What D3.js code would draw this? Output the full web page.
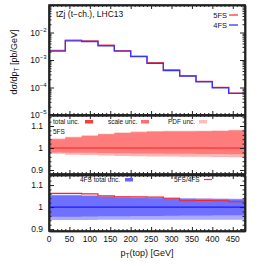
<!DOCTYPE html>
<html>
<head>
<meta charset="utf-8">
<script src="https://cdn.jsdelivr.net/npm/d3@7"></script>
<style>
  body { margin: 0; background: #fff; }
  svg { display: block; font-family: "Liberation Sans", Arial, sans-serif; }
  .axis path { stroke: #222; stroke-width: 1.5; }
  .axis line { stroke: #222; }
  .axis text { display: none; }
</style>
</head>
<body>
<svg id="chart" width="262" height="266"></svg>
<script>
// bin edges and values
var PT_EDGES = [0, 40, 80, 120, 160, 200, 240, 280, 320, 360, 400, 440, 480];
var XS_5FS = [2.23e-3, 5.3e-3, 4.98e-3, 3.47e-3, 2.2e-3, 1.39e-3, 7.95e-4, 4.32e-4, 2.68e-4, 1.67e-4, 1.01e-4, 6.25e-5];
var XS_4FS = [2.1e-3, 5.0e-3, 4.7e-3, 3.3e-3, 2.1e-3, 1.33e-3, 7.6e-4, 4.15e-4, 2.6e-4, 1.62e-4, 9.8e-5, 6.1e-5];

// 5FS relative uncertainties (middle panel)
var SCALE_HI_5FS = [1.040, 1.048, 1.055, 1.062, 1.068, 1.072, 1.074, 1.075, 1.075, 1.076, 1.077, 1.080];
var SCALE_LO_5FS = [0.980, 0.978, 0.978, 0.977, 0.976, 0.975, 0.975, 0.974, 0.974, 0.973, 0.973, 0.972];
var TOTAL_HI_5FS = [1.043, 1.051, 1.058, 1.065, 1.071, 1.075, 1.077, 1.078, 1.078, 1.079, 1.080, 1.083];
var TOTAL_LO_5FS = [0.974, 0.970, 0.968, 0.966, 0.964, 0.963, 0.962, 0.961, 0.960, 0.960, 0.959, 0.958];

// 4FS relative uncertainties and ratio (lower panel)
var SCALE_HI_4FS = [1.052, 1.052, 1.050, 1.046, 1.044, 1.042, 1.040, 1.038, 1.037, 1.036, 1.035, 1.034];
var SCALE_LO_4FS = [0.956, 0.956, 0.957, 0.958, 0.958, 0.959, 0.960, 0.961, 0.962, 0.962, 0.963, 0.963];
var TOTAL_HI_4FS = [1.056, 1.056, 1.054, 1.050, 1.048, 1.046, 1.044, 1.042, 1.041, 1.040, 1.039, 1.038];
var TOTAL_LO_4FS = [0.941, 0.941, 0.941, 0.942, 0.942, 0.942, 0.942, 0.942, 0.942, 0.942, 0.942, 0.942];
var RATIO_5FS_4FS = [1.062, 1.062, 1.060, 1.051, 1.047, 1.047, 1.045, 1.040, 1.029, 1.030, 1.029, 1.024];

var X_MAJOR = [0, 50, 100, 150, 200, 250, 300, 350, 400, 450];
var Y_MAIN_MAJOR = [1e-5, 1e-4, 1e-3, 1e-2, 1e-1];
var Y_RATIO_MAJOR = [0.9, 1.0, 1.1];

var LEFT = 49, RIGHT = 245;
var MAIN_TOP = 5, MAIN_BOTTOM = 115;
var MID_TOP = 115, MID_BOTTOM = 174;
var LOW_TOP = 175, LOW_BOTTOM = 231;

var RED = "#ff2a2a", BLUE = "#2a2aff";

var svg = d3.select("#chart");

var xScale = d3.scaleLinear().domain([0, 480]).range([LEFT, RIGHT]);
var yMain = d3.scaleLog().domain([1e-5, 1e-1]).range([MAIN_BOTTOM, MAIN_TOP]);
var yMid = d3.scaleLinear().domain([0.882, 1.15]).range([MID_BOTTOM, MID_TOP]);
var yLow = d3.scaleLinear().domain([0.8915, 1.1455]).range([LOW_BOTTOM, LOW_TOP]);

function stepPoints(vals) {
    var pts = vals.map((v, i) => [PT_EDGES[i], v]);
    pts.push([PT_EDGES[PT_EDGES.length - 1], vals[vals.length - 1]]);
    return pts;
}
function bandPoints(lo, hi) {
    var pts = lo.map((v, i) => [PT_EDGES[i], v, hi[i]]);
    pts.push([PT_EDGES[PT_EDGES.length - 1], lo[lo.length - 1], hi[hi.length - 1]]);
    return pts;
}
function drawBand(yS, lo, hi, color) {
    var area = d3.area().curve(d3.curveStepAfter)
        .x(d => xScale(d[0])).y0(d => yS(d[1])).y1(d => yS(d[2]));
    svg.append("path").attr("d", area(bandPoints(lo, hi))).attr("fill", color);
}
function drawStep(yS, vals, color, width) {
    var line = d3.line().curve(d3.curveStepAfter)
        .x(d => xScale(d[0])).y(d => yS(d[1]));
    svg.append("path").attr("d", line(stepPoints(vals)))
        .attr("fill", "none").attr("stroke", color).attr("stroke-width", width);
}
function flatLine(yS, v, color) {
    svg.append("line").attr("x1", LEFT).attr("x2", RIGHT)
        .attr("y1", yS(v)).attr("y2", yS(v))
        .attr("stroke", color).attr("stroke-width", 1.2);
}

// Main panel curves
drawStep(yMain, XS_5FS, "#ff4040", 1.3);
drawStep(yMain, XS_4FS, "#3535ff", 1.3);

// Middle panel bands
drawBand(yMid, TOTAL_LO_5FS, TOTAL_HI_5FS, "#ffb4b4");
drawBand(yMid, SCALE_LO_5FS, SCALE_HI_5FS, "#ff7c7c");
flatLine(yMid, 1.0, "#ff2020");

// Lower panel bands
drawBand(yLow, TOTAL_LO_4FS, TOTAL_HI_4FS, "#a9a9ff");
drawBand(yLow, SCALE_LO_4FS, SCALE_HI_4FS, "#7070ff");
flatLine(yLow, 1.0, "#1a1aff");
drawStep(yLow, RATIO_5FS_4FS, "#ff2020", 1.1);

// Axes with inward ticks
function xTicks(top, bottom) {
    var minor = d3.range(0, 481, 10).filter(v => v % 50 != 0);
    svg.append("g").attr("class", "axis").attr("transform", "translate(0," + bottom + ")")
        .call(d3.axisBottom(xScale).tickValues(X_MAJOR).tickSize(-4).tickSizeOuter(0));
    svg.append("g").attr("class", "axis").attr("transform", "translate(0," + bottom + ")")
        .call(d3.axisBottom(xScale).tickValues(minor).tickSize(-2).tickSizeOuter(0));
    svg.append("g").attr("class", "axis").attr("transform", "translate(0," + top + ")")
        .call(d3.axisTop(xScale).tickValues(X_MAJOR).tickSize(-4).tickSizeOuter(0));
    svg.append("g").attr("class", "axis").attr("transform", "translate(0," + top + ")")
        .call(d3.axisTop(xScale).tickValues(minor).tickSize(-2).tickSizeOuter(0));
}
function yTicks(yS, major, minor) {
    svg.append("g").attr("class", "axis").attr("transform", "translate(" + LEFT + ",0)")
        .call(d3.axisLeft(yS).tickValues(major).tickSize(-5).tickSizeOuter(0));
    svg.append("g").attr("class", "axis").attr("transform", "translate(" + LEFT + ",0)")
        .call(d3.axisLeft(yS).tickValues(minor).tickSize(-2.5).tickSizeOuter(0));
    svg.append("g").attr("class", "axis").attr("transform", "translate(" + RIGHT + ",0)")
        .call(d3.axisRight(yS).tickValues(major).tickSize(-5).tickSizeOuter(0));
    svg.append("g").attr("class", "axis").attr("transform", "translate(" + RIGHT + ",0)")
        .call(d3.axisRight(yS).tickValues(minor).tickSize(-2.5).tickSizeOuter(0));
}

var logMinor = [];
for (var e = -5; e < -1; e++) {
    for (var m = 2; m < 10; m++) logMinor.push(m * Math.pow(10, e));
}
var ratioMinor = d3.range(0.88, 1.151, 0.02).map(v => +v.toFixed(2)).filter(v => Y_RATIO_MAJOR.indexOf(v) < 0);

xTicks(MAIN_TOP, MAIN_BOTTOM);
xTicks(MID_TOP, MID_BOTTOM);
xTicks(LOW_TOP, LOW_BOTTOM);
yTicks(yMain, Y_MAIN_MAJOR, logMinor);
yTicks(yMid, Y_RATIO_MAJOR, ratioMinor.filter(v => v > yMid.domain()[0]));
yTicks(yLow, Y_RATIO_MAJOR, ratioMinor.filter(v => v > yLow.domain()[0] && v < yLow.domain()[1]));

// Frames
[[MAIN_TOP, MAIN_BOTTOM], [MID_TOP, MID_BOTTOM], [LOW_TOP, LOW_BOTTOM]].forEach(function (p) {
    svg.append("rect").attr("x", LEFT).attr("y", p[0])
        .attr("width", RIGHT - LEFT).attr("height", p[1] - p[0])
        .attr("fill", "none").attr("stroke", "#222").attr("stroke-width", 1.6);
});

// Tick labels
Y_MAIN_MAJOR.slice(0, 4).forEach(function (v) {
    var t = svg.append("text").attr("x", 46.5).attr("y", yMain(v) + 3)
        .attr("text-anchor", "end").attr("font-size", 8.5).attr("fill", "#111");
    t.append("tspan").text("10");
    t.append("tspan").attr("dy", -4).attr("font-size", 6).text("\u2212" + Math.round(-Math.log10(v)));
});
[yMid, yLow].forEach(function (yS) {
    Y_RATIO_MAJOR.forEach(function (v) {
        svg.append("text").attr("x", 43).attr("y", yS(v) + 3)
            .attr("text-anchor", "end").attr("font-size", 8.5).attr("fill", "#111")
            .text(v == 1 ? "1" : v.toFixed(1));
    });
});
X_MAJOR.forEach(function (v) {
    svg.append("text").attr("x", xScale(v)).attr("y", 242)
        .attr("text-anchor", "middle").attr("font-size", 8.5).attr("fill", "#111")
        .text(v);
});

// Axis titles
var xt = svg.append("text").attr("x", 147).attr("y", 256)
    .attr("text-anchor", "middle").attr("font-size", 9).attr("fill", "#111");
xt.append("tspan").text("p");
xt.append("tspan").attr("dy", 2).attr("font-size", 6.5).text("T");
xt.append("tspan").attr("dy", -2).text("(top) [GeV]");

var yt = svg.append("text").attr("transform", "translate(17,62) rotate(-90)")
    .attr("text-anchor", "middle").attr("font-size", 9).attr("fill", "#111");
yt.append("tspan").text("d\u03c3/dp");
yt.append("tspan").attr("dy", 2).attr("font-size", 6.5).text("T");
yt.append("tspan").attr("dy", -2).text(" [pb/GeV]");

// Main panel labels and legend
svg.append("text").attr("x", 56).attr("y", 17).attr("font-size", 8.5).attr("fill", "#111")
    .text("tZj (t\u2212ch.), LHC13");
svg.append("text").attr("x", 227).attr("y", 18).attr("text-anchor", "end")
    .attr("font-size", 7.5).attr("fill", "#111").text("5FS");
svg.append("line").attr("x1", 229).attr("x2", 238).attr("y1", 15).attr("y2", 15)
    .attr("stroke", "#ff5050").attr("stroke-width", 1.5);
svg.append("text").attr("x", 227).attr("y", 28).attr("text-anchor", "end")
    .attr("font-size", 7.5).attr("fill", "#111").text("4FS");
svg.append("line").attr("x1", 229).attr("x2", 238).attr("y1", 25).attr("y2", 25)
    .attr("stroke", "#5050ff").attr("stroke-width", 1.5);

// Middle panel legend
var midLegend = [
    { label: "total unc.", x: 53, sx: 85, color: "#ff3a3a" },
    { label: "scale unc.", x: 108, sx: 141, color: "#ff6e6e" },
    { label: "PDF unc.", x: 168, sx: 199, color: "#ffbcbc" }
];
midLegend.forEach(function (d) {
    svg.append("text").attr("x", d.x).attr("y", 124).attr("font-size", 6.5).attr("fill", "#111").text(d.label);
    svg.append("rect").attr("x", d.sx).attr("y", 120).attr("width", 8).attr("height", 3.5).attr("fill", d.color);
});
svg.append("text").attr("x", 53).attr("y", 134).attr("font-size", 6.5).attr("fill", "#111").text("5FS");

// Lower panel legend
svg.append("text").attr("x", 80).attr("y", 182).attr("font-size", 6.5).attr("fill", "#111").text("4FS total unc.");
svg.append("rect").attr("x", 125).attr("y", 178).attr("width", 8).attr("height", 3.5).attr("fill", "#6565ff");
svg.append("text").attr("x", 174).attr("y", 182).attr("font-size", 6.5).attr("fill", "#111").text("5FS/4FS");
svg.append("line").attr("x1", 204).attr("x2", 212).attr("y1", 179.5).attr("y2", 179.5)
    .attr("stroke", "#ff3030").attr("stroke-width", 1.2);
</script>
</body>
</html>
